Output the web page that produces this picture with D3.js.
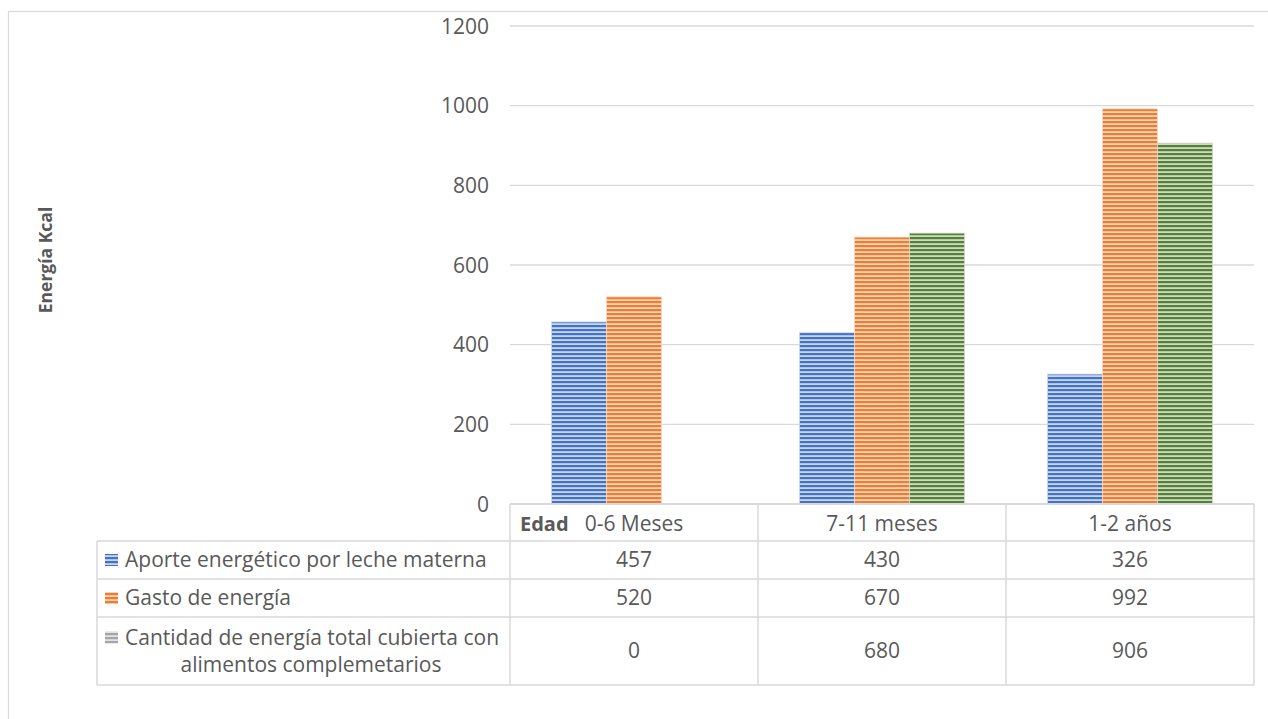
<!DOCTYPE html>
<html>
<head>
<meta charset="utf-8">
<script src="https://cdn.jsdelivr.net/npm/d3@7"></script>
<style>
  html, body { margin: 0; padding: 0; background: #fff; }
  svg { display: block; }
  text { font-family: "Open Sans", sans-serif; fill: #595959; }
</style>
</head>
<body>
<svg id="chart" width="1268" height="719"></svg>
<script>
// ---- data ----
const categories = ["0-6 Meses", "7-11 meses", "1-2 años"];
const seriesNames = [
  "Aporte energético por leche materna",
  "Gasto de energía",
  "Cantidad de energía total cubierta con alimentos complemetarios"
];
const seriesLabelLines = [
  ["Aporte energético por leche materna"],
  ["Gasto de energía"],
  ["Cantidad de energía total cubierta con", "alimentos complemetarios"]
];
const aporte = [457, 430, 326];
const gasto = [520, 670, 992];
const cantidad = [0, 680, 906];
const yTicks = [0, 200, 400, 600, 800, 1000, 1200];
const yTitle = "Energía Kcal";
const tableHeader = "Edad";

const seriesValues = [aporte, gasto, cantidad];
const barColors = ["#4472C4", "#ED7D31", "#548235"];
const barLight = ["#c9d6f0", "#fad4b8", "#d0d8c8"];
const legendColors = ["#4472C4", "#ED7D31", "#A5A5A5"];
const legendLight = ["#c9d6f0", "#fad4b8", "#e2e2e2"];

const svg = d3.select("#chart");
const grid = "#d9d9d9";
const fs = 21;

// outer border
svg.append("rect").attr("x", 8.5).attr("y", 11.5).attr("width", 1280).attr("height", 740)
  .attr("fill", "none").attr("stroke", grid).attr("stroke-width", 1.2);

// patterns
const defs = svg.append("defs");
function makePattern(id, dark, light) {
  const p = defs.append("pattern").attr("id", id).attr("patternUnits", "userSpaceOnUse")
    .attr("width", 8).attr("height", 4);
  p.append("rect").attr("width", 8).attr("height", 4).attr("fill", light);
  p.append("rect").attr("y", 1).attr("width", 8).attr("height", 2.2).attr("fill", dark);
}
barColors.forEach((c, i) => makePattern("bar" + i, c, barLight[i]));
legendColors.forEach((c, i) => makePattern("leg" + i, c, legendLight[i]));

// scales
const plotLeft = 510, plotRight = 1254, plotTop = 26, plotBottom = 504;
const x0 = d3.scaleBand().domain(categories).range([plotLeft, plotRight]).padding(0);
const x1 = d3.scaleBand().domain(d3.range(seriesNames.length)).range([0, x0.bandwidth()])
  .paddingInner(0).paddingOuter(0.754);
const y = d3.scaleLinear().domain([0, 1200]).range([plotBottom, plotTop]);

// gridlines
svg.append("g").selectAll("line").data(yTicks.filter(d => d > 0)).join("line")
  .attr("x1", plotLeft).attr("x2", plotRight)
  .attr("y1", d => y(d)).attr("y2", d => y(d))
  .attr("stroke", grid).attr("stroke-width", 1.3);

// y axis labels
const yAxis = d3.axisLeft(y).tickValues(yTicks).tickFormat(d3.format("d")).tickSize(0).tickPadding(0);
const ya = svg.append("g").attr("transform", `translate(${489},0)`).call(yAxis);
ya.select(".domain").remove();
ya.selectAll("text").attr("font-family", "Open Sans").attr("font-size", fs)
  .attr("fill", "#595959").attr("dy", "0.34em");

// y title
svg.append("text").attr("transform", `translate(52,${260}) rotate(-90)`)
  .attr("text-anchor", "middle").attr("font-size", 17.5).attr("font-weight", "bold")
  .text(yTitle);

// bars
const groups = svg.append("g").selectAll("g").data(categories).join("g")
  .attr("transform", d => `translate(${x0(d)},0)`);
groups.selectAll("rect").data((d, ci) => seriesValues.map((vals, si) => ({ si, v: vals[ci] })))
  .join("rect")
  .attr("x", d => x1(d.si)).attr("width", x1.bandwidth())
  .attr("y", d => y(d.v)).attr("height", d => y(0) - y(d.v))
  .attr("fill", d => `url(#bar${d.si})`)
  .attr("stroke", d => barLight[d.si]).attr("stroke-width", 0.8);

// axis line at 0 (header top)
svg.append("line").attr("x1", plotLeft).attr("x2", plotRight).attr("y1", plotBottom).attr("y2", plotBottom)
  .attr("stroke", grid).attr("stroke-width", 2);

// data table
const tableLeft = 97;
const rowY = [504, 541, 579, 617, 685];
const tg = svg.append("g");
rowY.slice(1).forEach(yy => {
  tg.append("line").attr("x1", tableLeft).attr("x2", plotRight).attr("y1", yy).attr("y2", yy)
    .attr("stroke", grid).attr("stroke-width", 1.5);
});
tg.append("line").attr("x1", tableLeft).attr("x2", tableLeft).attr("y1", rowY[1]).attr("y2", rowY[4])
  .attr("stroke", grid).attr("stroke-width", 1.5);
[plotLeft, ...categories.map(c => x0(c) + x0.bandwidth())].forEach(xx => {
  tg.append("line").attr("x1", xx).attr("x2", xx).attr("y1", rowY[0]).attr("y2", rowY[4])
    .attr("stroke", grid).attr("stroke-width", 1.5);
});

// header
const headerMid = (rowY[0] + rowY[1]) / 2 + 1;
tg.append("text").attr("x", 520).attr("y", headerMid).attr("dy", "0.35em")
  .attr("font-size", 20).attr("font-weight", "bold").text(tableHeader);
tg.selectAll("text.cat").data(categories).join("text").attr("class", "cat")
  .attr("x", d => x0(d) + x0.bandwidth() / 2).attr("y", headerMid).attr("dy", "0.35em")
  .attr("text-anchor", "middle").attr("font-size", fs).text(d => d);

// rows
seriesNames.forEach((name, si) => {
  const top = rowY[si + 1], bot = rowY[si + 2];
  const mid = (top + bot) / 2;
  const lines = seriesLabelLines[si];
  const iconY = lines.length > 1 ? mid - 13.5 : mid;
  tg.append("rect").attr("x", 105).attr("y", iconY - 6).attr("width", 13).attr("height", 12)
    .attr("fill", `url(#leg${si})`);
  if (lines.length === 1) {
    tg.append("text").attr("x", 125).attr("y", mid).attr("dy", "0.35em")
      .attr("font-size", fs).text(lines[0]);
  } else {
    tg.append("text").attr("x", 125).attr("y", mid - 13.5).attr("dy", "0.35em")
      .attr("font-size", fs).text(lines[0]);
    tg.append("text").attr("x", 311).attr("y", mid + 13.5).attr("dy", "0.35em")
      .attr("text-anchor", "middle").attr("font-size", fs).text(lines[1]);
  }
  categories.forEach((c, ci) => {
    tg.append("text").attr("x", x0(c) + x0.bandwidth() / 2).attr("y", mid).attr("dy", "0.35em")
      .attr("text-anchor", "middle").attr("font-size", fs).text(seriesValues[si][ci]);
  });
});
</script>
</body>
</html>
